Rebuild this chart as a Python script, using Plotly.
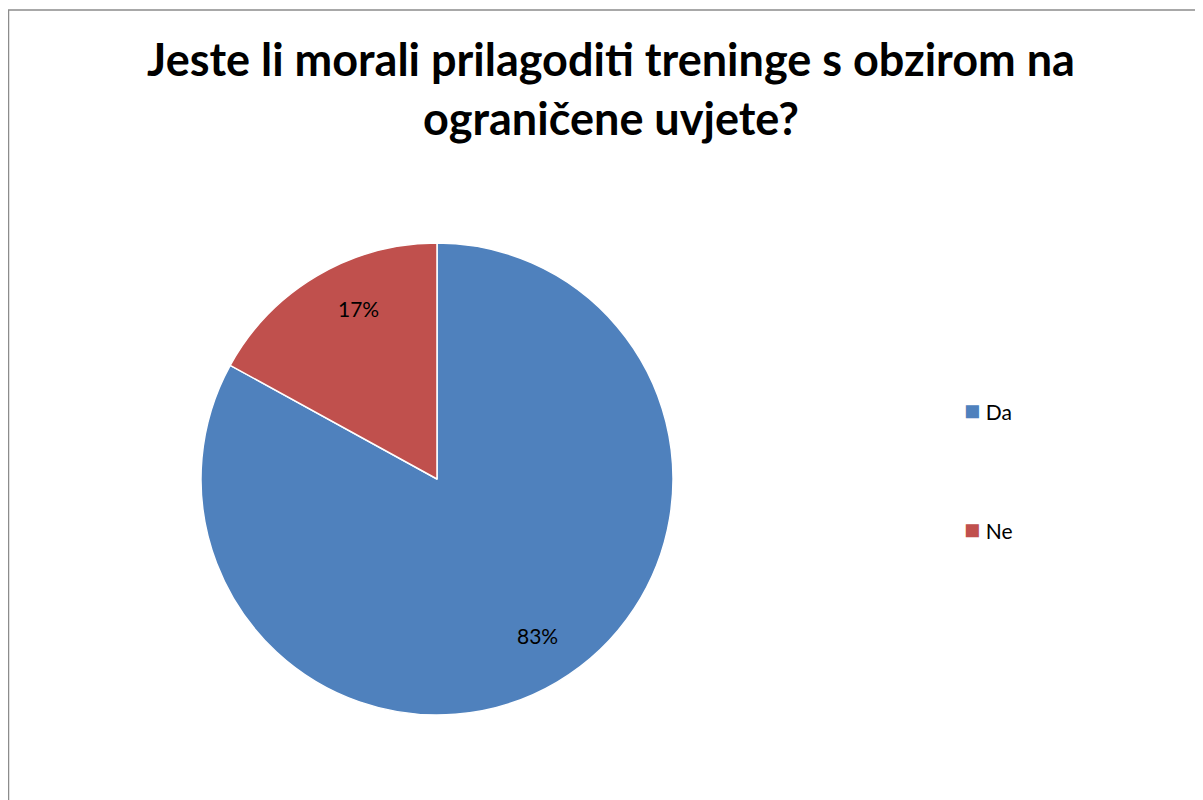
import math
import plotly.graph_objects as go

labels = ["Da", "Ne"]
values = [83, 17]
colours = ["#4F81BD", "#C0504D"]
title_text = "Jeste li morali prilagoditi treninge s obzirom na<br>ograničene uvjete?"

W, H = 1203, 800
FONT = "Lato, Carlito, Calibri, sans-serif"

# pie placement in pixels (page has an 8px body margin)
cx, cy, R = 429, 471, 236

fig = go.Figure(go.Pie(
    labels=labels,
    values=values,
    sort=False,
    direction="clockwise",
    rotation=0,
    marker=dict(colors=colours, line=dict(color="white", width=1.5)),
    textinfo="none",
    domain=dict(x=[(cx - R) / W, (cx + R) / W], y=[1 - (cy + R) / H, 1 - (cy - R) / H]),
    showlegend=False,
    hoverinfo="label+percent",
))

# percent labels placed at each slice's mid angle, like Excel's best fit
total = sum(values)
start = 0.0
for v in values:
    mid = (start + v / 2) / total * 2 * math.pi
    start += v
    px_ = cx + 0.84 * R * math.sin(mid)
    py_ = cy - 0.84 * R * math.cos(mid)
    fig.add_annotation(
        x=px_ / W, y=1 - py_ / H, xref="paper", yref="paper",
        showarrow=False, text=f"{round(v / total * 100)}%",
        font=dict(family=FONT, size=21, color="black"),
    )

# legend drawn as annotations, so the wide Excel-style gap can be kept
legend_y = [402, 520]
for lab, col, ly in zip(labels, colours, legend_y):
    fig.add_annotation(
        x=954 / W, y=1 - ly / H, xref="paper", yref="paper",
        xanchor="left", yanchor="middle", showarrow=False,
        text=f"<span style='color:{col};font-size:27px'>■</span> {lab}",
        font=dict(family=FONT, size=21, color="black"),
    )

fig.add_shape(type="rect", xref="paper", yref="paper",
              x0=0.5 / W, y0=-0.1, x1=1.1, y1=1 - 2 / H,
              line=dict(color="#8c8c8c", width=1.5))

fig.update_layout(
    width=W, height=H,
    margin=dict(l=0, r=0, t=0, b=0),
    paper_bgcolor="white",
    plot_bgcolor="white",
    title=dict(
        text=title_text, x=603 / W, xanchor="center",
        y=1 - 68 / H, yanchor="top", yref="container",
        font=dict(family=FONT, size=45, color="black", weight="bold"),
    ),
)

fig.write_html("out.html")
